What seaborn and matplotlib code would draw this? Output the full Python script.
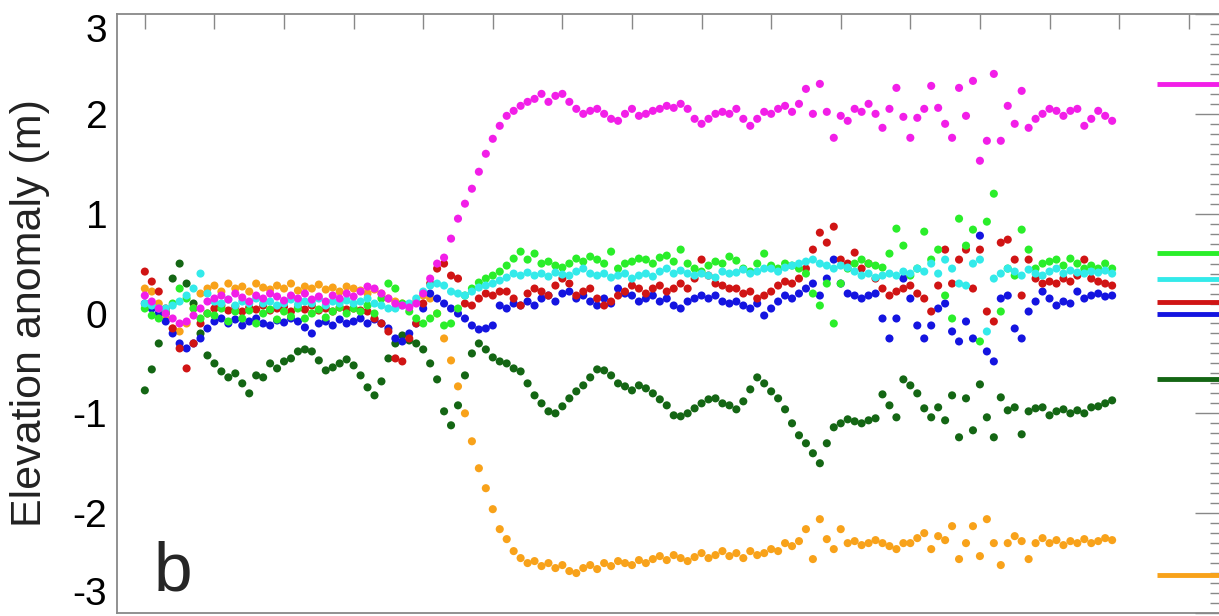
import matplotlib
matplotlib.use("Agg")
import matplotlib.pyplot as plt
from matplotlib.ticker import MultipleLocator
import numpy as np
import pandas as pd
import seaborn as sns

# sample positions (tick units along the unlabeled time axis)
x_vals = np.arange(140) * 0.1

magenta = [0.18, 0.12, 0.05, 0.0, -0.05, -0.1, -0.08, -0.02, 0.05, 0.12,
           0.15, 0.18, 0.14, 0.2, 0.16, 0.12, 0.18, 0.15, 0.2, 0.17,
           0.13, 0.18, 0.15, 0.2, 0.14, 0.17, 0.12, 0.18, 0.15, 0.2,
           0.17, 0.22, 0.27, 0.25, 0.2, 0.15, 0.1, 0.08, 0.06, 0.1,
           0.2, 0.35, 0.5, 0.56, 0.75, 0.95, 1.1, 1.25, 1.42, 1.6,
           1.75, 1.88, 1.98, 2.03, 2.08, 2.12, 2.15, 2.2, 2.12, 2.18,
           2.2, 2.12, 2.05, 2.0, 2.03, 2.05, 2.0, 1.95, 1.93, 2.0,
           2.05, 1.98, 2.0, 2.03, 2.05, 2.08, 2.06, 2.1, 2.05, 1.95,
           1.9, 1.95, 2.0, 2.02, 2.0, 2.05, 1.95, 1.88, 1.95, 2.02,
           2.0, 2.05, 2.08, 2.02, 2.1, 2.25, 2.0, 2.3, 2.02, 1.76,
           1.98, 1.93, 2.05, 2.02, 2.1, 2.0, 1.86, 2.05, 2.26, 1.97,
           1.76, 1.96, 2.05, 2.28, 2.06, 1.9, 1.76, 2.26, 1.98, 2.33,
           1.53, 1.73, 2.4, 1.73, 2.08, 1.9, 2.23, 1.86, 1.95, 2.0,
           2.05, 2.03, 1.98, 2.03, 2.05, 1.88, 1.95, 2.03, 1.98, 1.93]

orange = [0.25, 0.22, 0.1, -0.05, -0.15, -0.18, -0.1, 0.05, 0.2, 0.25,
          0.28, 0.22, 0.3, 0.25, 0.27, 0.22, 0.3, 0.26, 0.24, 0.28,
          0.25, 0.3, 0.23, 0.27, 0.25, 0.29, 0.24, 0.26, 0.22, 0.27,
          0.25, 0.23, 0.2, 0.24, 0.2, 0.15, 0.12, 0.1, 0.08, 0.12,
          0.18, 0.15, 0.0, -0.25, -0.47, -0.73, -1.0, -1.28, -1.55, -1.75,
          -1.96, -2.16, -2.26, -2.38, -2.45, -2.5, -2.48, -2.53, -2.5, -2.55,
          -2.52, -2.58, -2.6, -2.55, -2.52, -2.56, -2.5, -2.53, -2.48, -2.5,
          -2.52, -2.47, -2.5, -2.46, -2.43, -2.47, -2.42, -2.45, -2.48, -2.44,
          -2.4, -2.45, -2.42, -2.38, -2.43, -2.4, -2.45, -2.38, -2.42, -2.4,
          -2.36, -2.38, -2.3, -2.33, -2.28, -2.16, -2.46, -2.06, -2.26, -2.36,
          -2.16, -2.3, -2.28, -2.32, -2.3, -2.27, -2.3, -2.33, -2.36, -2.3,
          -2.3, -2.25, -2.2, -2.36, -2.23, -2.27, -2.13, -2.46, -2.3, -2.13,
          -2.43, -2.06, -2.3, -2.52, -2.3, -2.23, -2.28, -2.46, -2.3, -2.25,
          -2.3, -2.27, -2.32, -2.28, -2.3, -2.26, -2.3, -2.28, -2.25, -2.27]

dark_green = [-0.77, -0.56, -0.3, 0.0, 0.35, 0.5, 0.3, 0.1, -0.2, -0.42,
              -0.5, -0.58, -0.64, -0.6, -0.7, -0.8, -0.62, -0.64, -0.5, -0.55,
              -0.48, -0.45, -0.38, -0.36, -0.38, -0.47, -0.57, -0.54, -0.5, -0.46,
              -0.52, -0.62, -0.74, -0.82, -0.68, -0.45, -0.3, -0.22, -0.27, -0.3,
              -0.36, -0.5, -0.66, -0.98, -1.12, -0.92, -0.62, -0.4, -0.3, -0.36,
              -0.44, -0.48, -0.5, -0.55, -0.58, -0.7, -0.82, -0.9, -0.98, -1.0,
              -0.93, -0.85, -0.78, -0.72, -0.64, -0.56, -0.57, -0.62, -0.7, -0.73,
              -0.77, -0.72, -0.75, -0.8, -0.86, -0.92, -1.02, -1.03, -1.0, -0.95,
              -0.9, -0.86, -0.85, -0.9, -0.92, -0.96, -0.88, -0.76, -0.64, -0.7,
              -0.78, -0.85, -0.96, -1.1, -1.22, -1.3, -1.4, -1.5, -1.3, -1.14,
              -1.1, -1.06, -1.08, -1.1, -1.07, -1.05, -0.81, -0.92, -1.04, -0.66,
              -0.72, -0.8, -0.95, -1.04, -0.94, -1.07, -0.82, -1.24, -0.85, -1.17,
              -0.71, -1.04, -1.24, -0.84, -0.97, -0.94, -1.21, -0.98, -0.95, -0.94,
              -1.02, -0.98, -0.96, -1.0, -0.97, -1.0, -0.94, -0.93, -0.9, -0.87]

green = [0.05, -0.02, -0.05, 0.02, 0.1, 0.25, 0.15, 0.05, -0.05, 0.0,
         -0.02, 0.05, -0.08, 0.02, -0.05, 0.03, -0.1, 0.0, 0.04, -0.06,
         0.02, -0.03, 0.05, -0.05, 0.0, 0.04, -0.04, 0.02, 0.06, 0.0,
         0.05, 0.02, 0.08, 0.0, 0.15, 0.3, 0.25, 0.1, 0.02, -0.05,
         -0.1, -0.05, 0.0, -0.12, -0.1, 0.05, 0.18, 0.25, 0.31, 0.35,
         0.38, 0.42, 0.48, 0.55, 0.62, 0.54, 0.6, 0.5, 0.52, 0.48,
         0.46, 0.5, 0.55, 0.52, 0.57, 0.54, 0.5, 0.62, 0.45, 0.5,
         0.52, 0.55, 0.54, 0.5, 0.56, 0.58, 0.52, 0.64, 0.5, 0.45,
         0.42, 0.48, 0.52, 0.5, 0.57, 0.53, 0.45, 0.42, 0.5, 0.6,
         0.48, 0.45, 0.5, 0.48, 0.45, 0.4, 0.2, 0.08, 0.3, -0.1,
         0.3, 0.45, 0.5, 0.54, 0.5, 0.48, 0.46, 0.6, 0.85, 0.68,
         0.38, 0.45, 0.82, 0.54, 0.64, 0.18, -0.05, 0.95, 0.68, 0.84,
         -0.28, 0.92, 1.2, 0.02, 0.45, 0.38, 0.84, 0.64, 0.45, 0.5,
         0.52, 0.54, 0.48, 0.55, 0.5, 0.45, 0.48, 0.45, 0.5, 0.45]

cyan = [0.1, 0.08, 0.05, 0.05, 0.08, 0.12, 0.18, 0.25, 0.4, 0.2,
        0.12, 0.1, 0.14, 0.08, 0.12, 0.1, 0.15, 0.1, 0.12, 0.08,
        0.1, 0.14, 0.09, 0.12, 0.1, 0.15, 0.08, 0.12, 0.1, 0.13,
        0.1, 0.12, 0.15, 0.1, 0.08, 0.05, 0.05, 0.08, 0.1, 0.15,
        0.22, 0.28, 0.3, 0.28, 0.22, 0.2, 0.18, 0.22, 0.26, 0.28,
        0.3, 0.33, 0.36, 0.4, 0.38, 0.41, 0.38, 0.4, 0.37, 0.41,
        0.39, 0.38, 0.42, 0.45, 0.4, 0.38, 0.4, 0.36, 0.38, 0.4,
        0.35, 0.38, 0.4, 0.37, 0.42, 0.45, 0.4, 0.43, 0.4, 0.38,
        0.4, 0.38, 0.36, 0.42, 0.4, 0.41, 0.44, 0.4, 0.42, 0.45,
        0.45, 0.42, 0.46, 0.48, 0.5, 0.52, 0.54, 0.5, 0.48, 0.45,
        0.48, 0.46, 0.42, 0.38, 0.4, 0.36, 0.38, 0.4, 0.38, 0.42,
        0.4, 0.45, 0.42, 0.5, 0.4, 0.54, 0.45, 0.3, 0.28, 0.5,
        0.54, -0.18, 0.35, 0.4, 0.45, 0.42, 0.38, 0.44, 0.4, 0.38,
        0.42, 0.45, 0.4, 0.43, 0.41, 0.4, 0.42, 0.41, 0.43, 0.4]

red = [0.42, 0.32, 0.22, 0.05, -0.15, -0.35, -0.55, -0.3, -0.1, 0.0,
       0.05, 0.08, 0.03, 0.07, 0.02, 0.06, 0.04, 0.08, 0.03, 0.05,
       0.07, 0.02, 0.06, 0.04, 0.08, 0.03, 0.05, 0.02, 0.06, 0.04,
       0.05, 0.03, 0.02, -0.05, -0.1, -0.18, -0.45, -0.48, -0.25, -0.1,
       0.1, 0.3, 0.45, 0.5, 0.38, 0.35, 0.1, 0.08, 0.15, 0.2,
       0.18, 0.22, 0.22, 0.15, 0.08, 0.2, 0.25, 0.22, 0.18, 0.28,
       0.35, 0.3, 0.18, 0.22, 0.25, 0.15, 0.08, 0.12, 0.18, 0.22,
       0.28, 0.25, 0.2, 0.25, 0.28, 0.22, 0.25, 0.3, 0.25, 0.35,
       0.54, 0.38, 0.3, 0.28, 0.25, 0.25, 0.2, 0.22, 0.15, 0.18,
       0.22, 0.28, 0.32, 0.3, 0.35, 0.45, 0.64, 0.81, 0.71, 0.87,
       0.54, 0.5, 0.61, 0.45, 0.5, 0.35, 0.25, 0.18, 0.22, 0.25,
       0.28, 0.2, 0.15, 0.02, 0.28, 0.64, 0.3, 0.54, 0.64, 0.25,
       0.64, 0.02, -0.08, 0.71, 0.74, 0.54, 0.18, 0.54, 0.35, 0.3,
       0.32, 0.3, 0.35, 0.32, 0.38, 0.54, 0.35, 0.32, 0.3, 0.28]

blue = [0.1, 0.05, 0.0, -0.08, -0.2, -0.3, -0.35, -0.3, -0.25, -0.15,
        -0.08, -0.05, -0.1, -0.06, -0.12, -0.08, -0.05, -0.1, -0.12, -0.07,
        -0.09, -0.05, -0.08, -0.14, -0.2, -0.1, -0.08, -0.12, -0.06, -0.1,
        -0.08, -0.05, -0.1, -0.06, -0.1, -0.15, -0.25, -0.28, -0.2, -0.1,
        0.05, 0.2, 0.15, 0.1, 0.05, 0.0, -0.05, -0.12, -0.16, -0.15,
        -0.12, 0.08, 0.05, 0.1, 0.08, 0.12, 0.08, 0.15, 0.18, 0.12,
        0.2, 0.22, 0.15, 0.18, 0.12, 0.08, 0.15, 0.1, 0.25, 0.2,
        0.18, 0.12, 0.15, 0.18, 0.12, 0.15, 0.08, 0.05, 0.12, 0.15,
        0.18, 0.15, 0.18, 0.12, 0.1, 0.12, 0.08, 0.05, 0.1, -0.02,
        0.05, 0.12, 0.18, 0.15, 0.2, 0.25, 0.3, 0.18, 0.35, 0.54,
        0.3, 0.2, 0.18, 0.15, 0.18, 0.2, -0.05, -0.25, -0.05, 0.35,
        0.15, -0.12, -0.25, -0.12, 0.05, 0.1, -0.18, -0.28, -0.08, -0.25,
        0.78, -0.38, -0.48, 0.15, 0.18, -0.15, -0.25, 0.02, 0.12, 0.22,
        0.15, 0.08, 0.12, 0.1, 0.22, 0.15, 0.18, 0.2, 0.17, 0.18]

# short level markers at the right edge
level_names = ["magenta", "green", "cyan", "red", "blue", "dark_green", "orange"]
level_values = [2.3, 0.61, 0.35, 0.12, -0.01, -0.66, -2.62]

colors = {"dark_green": "#146614", "orange": "#f8a21a", "blue": "#1414e0",
          "red": "#d01414", "green": "#2aee2a", "cyan": "#33eaea",
          "magenta": "#f21ee8"}

# draw order = order of concatenation
series = {"dark_green": dark_green, "orange": orange, "blue": blue, "red": red,
          "green": green, "cyan": cyan, "magenta": magenta}
df = pd.concat([pd.DataFrame({"x": x_vals, "y": v, "series": k}) for k, v in series.items()],
               ignore_index=True)

sns.set_style("white")
plt.rcParams["font.family"] = ["Liberation Sans", "DejaVu Sans"]
plt.rcParams["axes.unicode_minus"] = False

fig = plt.figure(figsize=(12.19, 6.16), dpi=100)
ax = fig.add_axes([117 / 1219, 3 / 616, 1103 / 1219, 599 / 616])

sns.scatterplot(data=df, x="x", y="y", hue="series", palette=colors, s=34,
                linewidth=0, legend=False, ax=ax)

for name, lv in zip(level_names, level_values):
    ax.hlines(lv, 14.54, 15.6, colors=colors[name], linewidth=3.5)

ax.set_xlim(-0.4, 15.45)
ax.set_ylim(-3, 3)
ax.set_xticks(np.arange(0, 16))
ax.set_yticks([-3, -2, -1, 0, 1, 2, 3])
ax.yaxis.set_minor_locator(MultipleLocator(0.1))
ax.tick_params(axis="both", which="both", direction="in", top=True, right=True,
               labelbottom=False, colors="#888888", labelcolor="black")
ax.tick_params(axis="y", which="major", length=18, width=1, labelsize=28, pad=7)
ax.tick_params(axis="y", which="minor", length=7, width=1)
ax.tick_params(axis="x", which="major", length=11, width=1)
for sp in ax.spines.values():
    sp.set_color("#888888")
    sp.set_linewidth(1.3)

ylabels = ax.get_yticklabels()
ylabels[0].set_va("bottom")
ylabels[-1].set_va("top")

ax.set_xlabel("")
ax.set_ylabel("Elevation anomaly (m)", fontsize=31, color="#222222")
ax.yaxis.set_label_coords(-0.061, 0.5)

ax.text(0.033, 0.038, "b", transform=ax.transAxes, fontsize=50,
        ha="left", va="baseline")

fig.savefig("out.png", dpi=100)
